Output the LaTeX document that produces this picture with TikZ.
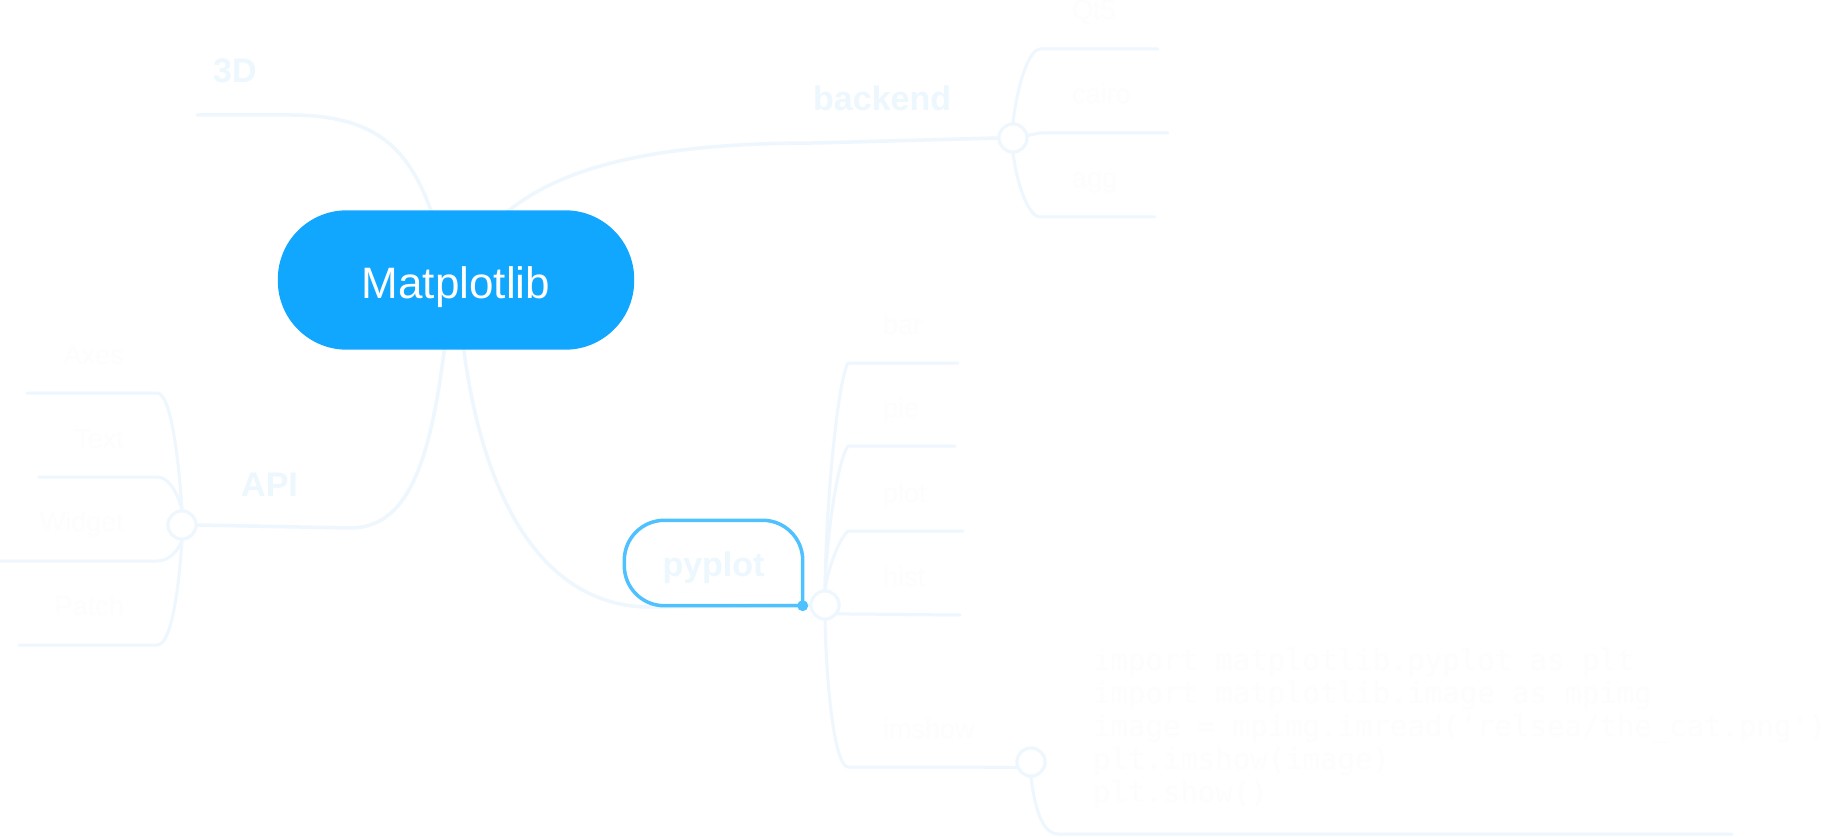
\documentclass[tikz,border=0pt]{standalone}
\usepackage{fontspec}
\setmainfont{Liberation Sans}
\newfontfamily\codefont{DejaVu Sans Mono}
\definecolor{mainblue}{RGB}{17,167,255}
\definecolor{selblue}{RGB}{80,193,255}
\definecolor{linec}{RGB}{238,247,254}
\definecolor{labelc}{RGB}{237,247,254}
\definecolor{childc}{RGB}{253,253,253}
\begin{document}
\begin{tikzpicture}[x=1pt,y=-1pt,
  conn/.style={draw=linec,line width=3.5pt,line cap=round},
  sub/.style={draw=linec,line width=3pt,line cap=round},
  hub/.style={circle,draw=linec,fill=white,line width=3pt,minimum size=28pt,inner sep=0pt},
  branchlabel/.style={font=\fontsize{34}{40}\selectfont\bfseries,text=labelc,inner sep=0pt,anchor=base west},
  childlabel/.style={font=\fontsize{27}{32}\selectfont,text=childc,inner sep=0pt,anchor=base west},
  childlabelr/.style={childlabel,anchor=base east},
  codeline/.style={font=\codefont\fontsize{29}{33}\selectfont,text=childc,inner sep=0pt,anchor=base west},
]
\useasboundingbox (0,0) rectangle (1823,837);
\fill[white] (0,0) rectangle (1823,837);

% free ends
\coordinate (e3d) at (197,115);
\coordinate (ebk1) at (1158,49);
\coordinate (ebk2) at (1168,133);
\coordinate (ebk3) at (1155,217);
\coordinate (eap1) at (27,393);
\coordinate (eap2) at (39,477);
\coordinate (eap3) at (0,561);
\coordinate (eap4) at (19,645);
\coordinate (ebar) at (958,363);
\coordinate (epie) at (955,446);
\coordinate (eplot) at (963,531);
\coordinate (ehist) at (960,615);
\coordinate (ecode) at (1732,834);

% main node (shape only, drawn later)
\node[minimum width=356pt, minimum height=139pt, inner sep=0pt] (main) at (456,280) {};

% hubs
\node[hub] (bk) at (1013,138) {};
\node[hub] (ap) at (182,525) {};
\node[hub] (pp) at (825,605) {};
\node[hub] (im) at (1031,762) {};

% main branches
\draw[conn] ([xshift=-23pt,yshift=-6pt]main.north) .. controls (410,150) and (378,115) .. (290,115) -- (e3d);
\draw[conn] ([xshift=46pt,yshift=-6pt]main.north) .. controls (560,165) and (660,143) .. (814,143) -- (bk.west);
\draw[conn] ([xshift=-11pt,yshift=6pt]main.south) .. controls (430,470) and (405,528) .. (350,528) -- (ap.east);
\draw[conn] ([xshift=7pt,yshift=6pt]main.south) .. controls (485,520) and (555,607) .. (650,607) -- (pp.west);

% main node body on top of connector ends
\fill[mainblue, rounded corners=69pt] (main.south west) rectangle (main.north east);
\node[anchor=base, text=white, font=\fontsize{44}{50}\selectfont, inner sep=0pt] (mainlbl) at (456,298) {Matplotlib};

% backend children
\draw[sub] (bk.north) .. controls (1018,80) and (1030,49) .. (1040,49) -- (ebk1);
\draw[sub] (bk.10) -- (1040,133) -- (ebk2);
\draw[sub] (bk.south) .. controls (1018,190) and (1030,217) .. (1040,217) -- (ebk3);

% API children
\draw[sub] (ap.north) .. controls (178,450) and (170,393) .. (157,393) -- (eap1);
\draw[sub] (ap.north) .. controls (178,495) and (170,477) .. (157,477) -- (eap2);
\draw[sub] (ap.south) .. controls (178,550) and (170,561) .. (157,561) -- (eap3);
\draw[sub] (ap.south) .. controls (178,600) and (170,645) .. (157,645) -- (eap4);

% pyplot children
\draw[sub] (pp.north) .. controls (826,500) and (838,380) .. (848,363) -- (ebar);
\draw[sub] (pp.north) .. controls (827,530) and (838,460) .. (848,446) -- (epie);
\draw[sub] (pp.north) .. controls (828,570) and (838,540) .. (848,531) -- (eplot);
\draw[sub] (pp.-35) -- (ehist);
\draw[sub] (pp.south) .. controls (827,700) and (836,767) .. (848,767) -- (im.200);
\draw[sub] (im.south) .. controls (1035,810) and (1043,834) .. (1058,834) -- (ecode);

% redraw hubs on top
\node[hub] at (bk) {};
\node[hub] at (ap) {};
\node[hub] at (pp) {};
\node[hub] at (im) {};

% pyplot selected box
\node[minimum width=178pt, minimum height=85pt, inner sep=0pt] (py) at (713.5,563) {};
\draw[selblue, line width=3.5pt, rounded corners=40pt]
  (py.south east) -- (py.south west) -- (py.north west) -- (py.north east) -- (py.south east);
\fill[selblue] (py.south east) circle (5.5pt);

% branch labels
\node[branchlabel] (l3d) at (213,83) {3D};
\node[branchlabel] (lbk) at (813,111) {backend};
\node[branchlabel] (lap) at (241,496) {API};
\node[branchlabel, anchor=base] (lpy) at (713.5,576) {pyplot};

% child labels
\node[childlabel] (cqt) at (1072,20) {Qt5};
\node[childlabel] (cca) at (1072,104) {cairo};
\node[childlabel] (cag) at (1072,188) {agg};
\node[childlabelr] (cax) at (124,364) {Axes};
\node[childlabelr] (ctx) at (124,448) {Text};
\node[childlabelr] (cwd) at (124,531) {Widget};
\node[childlabelr] (cpa) at (124,615) {Patch};
\node[childlabel] (cbar) at (883,334) {bar};
\node[childlabel] (cpie) at (883,417) {pie};
\node[childlabel] (cplot) at (883,502) {plot};
\node[childlabel] (chist) at (883,586) {hist};
\node[childlabel] (cim) at (883,738) {imshow};

% code
\node[codeline] (k1) at (1093,670) {import matplotlib.pyplot as plt};
\node[codeline] (k2) at (1093,703) {import matplotlib.image as mpimg};
\node[codeline] (k3) at (1093,736) {image = mpimg.imread('relsea/the\_cat.png')};
\node[codeline] (k4) at (1093,769) {plt.imshow(image)};
\node[codeline] (k5) at (1093,802) {plt.show()};
\end{tikzpicture}
\end{document}
